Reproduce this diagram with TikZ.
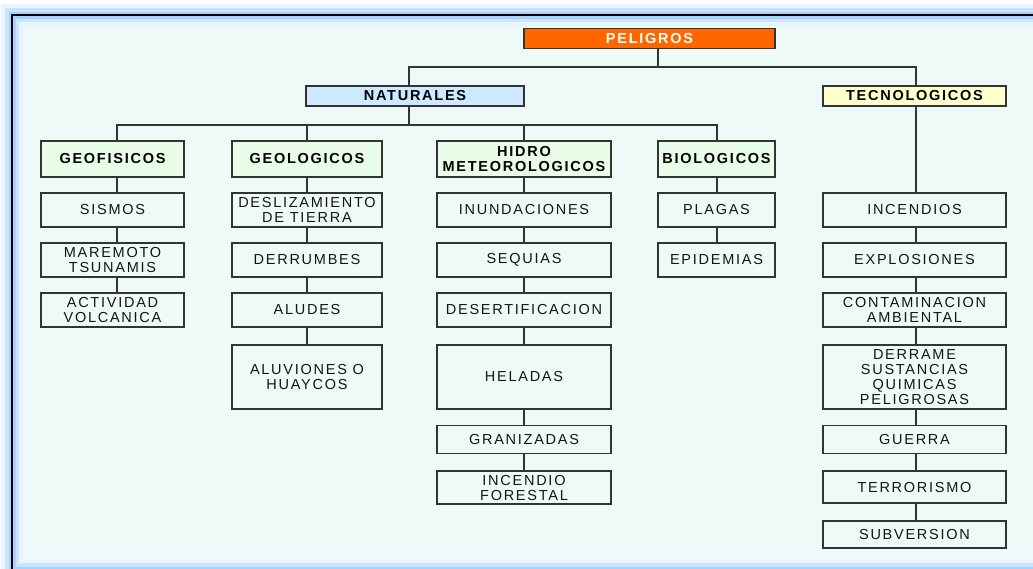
\documentclass[tikz,border=0pt]{standalone}
\usepackage{fontspec}
\setmainfont{Liberation Sans}[LetterSpace=12]
\definecolor{bgc}{HTML}{EEFAF8}
\definecolor{linec}{HTML}{333333}
\definecolor{txtc}{HTML}{141414}
\definecolor{orangec}{HTML}{FF6600}
\definecolor{bluec}{HTML}{CCE9FF}
\definecolor{yellowc}{HTML}{FFFFCC}
\definecolor{greenc}{HTML}{EAFDE8}
\definecolor{glowa}{HTML}{E8F4FF}
\definecolor{glowb}{HTML}{C8E4FF}
\definecolor{glowc}{HTML}{A6D2FF}
\tikzset{
  box/.style={draw=linec, line width=1.2pt, fill=bgc, inner sep=1pt, align=center,
    text=txtc, font=\fontsize{14.5}{15}\selectfont},
  title/.style={box, fill=greenc, text=black, font=\fontsize{14.5}{15}\selectfont\bfseries},
  con/.style={draw=linec, line width=1.2pt},
}
\begin{document}
\begin{tikzpicture}[x=1pt,y=-1pt]
\useasboundingbox (0,0) rectangle (1033,568);
\fill[white] (0,0) rectangle (1033,568);
\begin{scope}
\clip (0,0) rectangle (1033,568);
\fill[bgc] (12,15) rectangle (1070,570);
\draw[glowa, line width=22pt] (12,15) rectangle (1070,570);
\draw[glowb, line width=14pt] (12,15) rectangle (1070,570);
\draw[glowc, line width=7pt] (12,15) rectangle (1070,570);
\draw[black, line width=2.6pt] (12,15) rectangle (1070,570);
\end{scope}

% column x positions and bar heights
\coordinate (xP) at (658,0);
\coordinate (xN) at (409,0);
\coordinate (xT) at (916,0);
\coordinate (xGa) at (117,0);
\coordinate (xGb) at (307,0);
\coordinate (xH) at (524,0);
\coordinate (xB) at (717,0);
\coordinate (yA) at (0,67);
\coordinate (yB) at (0,125);

% top level
\node[box, fill=orangec, text=white, font=\fontsize{14.5}{15}\selectfont\bfseries,
  minimum width=251pt, minimum height=20pt] (peligros) at (649.5,38.5) {PELIGROS};
\node[box, fill=bluec, text=black, font=\fontsize{14.5}{15}\selectfont\bfseries,
  minimum width=218pt, minimum height=20pt] (naturales) at (415,96) {NATURALES};
\node[box, fill=yellowc, text=black, font=\fontsize{14.5}{15}\selectfont\bfseries,
  minimum width=183pt, minimum height=20pt] (tecno) at (914.5,96) {TECNOLOGICOS};

% level 2
\node[title, minimum width=143pt, minimum height=36pt] (geof) at (112.5,159) {GEOFISICOS};
\node[title, minimum width=150pt, minimum height=36pt] (geol) at (307,159) {GEOLOGICOS};
\node[title, minimum width=174pt, minimum height=36pt] (hidro) at (524,159) {HIDRO\\METEOROLOGICOS};
\node[title, minimum width=117pt, minimum height=36pt] (bio) at (716.5,159) {BIOLOGICOS};

% geofisicos
\node[box, minimum width=143pt, minimum height=34pt] (sismos) at (112.5,210) {SISMOS};
\node[box, minimum width=143pt, minimum height=34pt] (mare) at (112.5,260) {MAREMOTO\\TSUNAMIS};
\node[box, minimum width=143pt, minimum height=34pt] (activ) at (112.5,310) {ACTIVIDAD\\VOLCANICA};

% geologicos
\node[box, minimum width=150pt, minimum height=34pt] (desliz) at (307,210) {DESLIZAMIENTO\\DE TIERRA};
\node[box, minimum width=150pt, minimum height=34pt] (derrum) at (307,260) {DERRUMBES};
\node[box, minimum width=150pt, minimum height=34pt] (aludes) at (307,310) {ALUDES};
\node[box, minimum width=150pt, minimum height=64pt] (aluv) at (307,377) {ALUVIONES O\\HUAYCOS};

% hidrometeorologicos
\node[box, minimum width=174pt, minimum height=34pt] (inund) at (524,210) {INUNDACIONES};
\node[box, minimum width=174pt, minimum height=34pt] (sequ) at (524,260) {SEQUIAS};
\node[box, minimum width=174pt, minimum height=34pt] (desert) at (524,310) {DESERTIFICACION};
\node[box, minimum width=174pt, minimum height=64pt] (helad) at (524,377) {HELADAS};
\node[box, minimum width=174pt, minimum height=28pt] (graniz) at (524,439.5) {GRANIZADAS};
\node[box, minimum width=174pt, minimum height=33pt] (incfor) at (524,487.5) {INCENDIO\\FORESTAL};

% biologicos
\node[box, minimum width=117pt, minimum height=34pt] (plagas) at (716.5,210) {PLAGAS};
\node[box, minimum width=117pt, minimum height=34pt] (epid) at (716.5,260) {EPIDEMIAS};

% tecnologicos
\node[box, minimum width=183pt, minimum height=34pt] (incend) at (914.5,210) {INCENDIOS};
\node[box, minimum width=183pt, minimum height=34pt] (explo) at (914.5,260) {EXPLOSIONES};
\node[box, minimum width=183pt, minimum height=34pt] (contam) at (914.5,310) {CONTAMINACION\\AMBIENTAL};
\node[box, minimum width=183pt, minimum height=64pt] (derrame) at (914.5,377) {DERRAME\\SUSTANCIAS\\QUIMICAS\\PELIGROSAS};
\node[box, minimum width=183pt, minimum height=28pt] (guerra) at (914.5,439.5) {GUERRA};
\node[box, minimum width=183pt, minimum height=32pt] (terror) at (914.5,487) {TERRORISMO};
\node[box, minimum width=183pt, minimum height=27pt] (subv) at (914.5,534.5) {SUBVERSION};

% connectors
\draw[con] (peligros.south -| xP) -- (xP |- yA);
\draw[con] (naturales.north -| xN) -- (xN |- yA) -- (xT |- yA) -- (tecno.north -| xT);
\draw[con] (naturales.south -| xN) -- (xN |- yB);
\draw[con] (geof.north -| xGa) -- (xGa |- yB) -- (xB |- yB) -- (bio.north -| xB);
\draw[con] (geol.north -| xGb) -- (xGb |- yB);
\draw[con] (hidro.north -| xH) -- (xH |- yB);
\foreach \a/\b/\x in {geof/sismos/xGa, sismos/mare/xGa, mare/activ/xGa,
  geol/desliz/xGb, desliz/derrum/xGb, derrum/aludes/xGb, aludes/aluv/xGb,
  hidro/inund/xH, inund/sequ/xH, sequ/desert/xH, desert/helad/xH, helad/graniz/xH, graniz/incfor/xH,
  bio/plagas/xB, plagas/epid/xB,
  tecno/incend/xT, incend/explo/xT, explo/contam/xT, contam/derrame/xT, derrame/guerra/xT,
  guerra/terror/xT, terror/subv/xT}
  \draw[con] (\a.south -| \x) -- (\b.north -| \x);
\end{tikzpicture}
\end{document}
